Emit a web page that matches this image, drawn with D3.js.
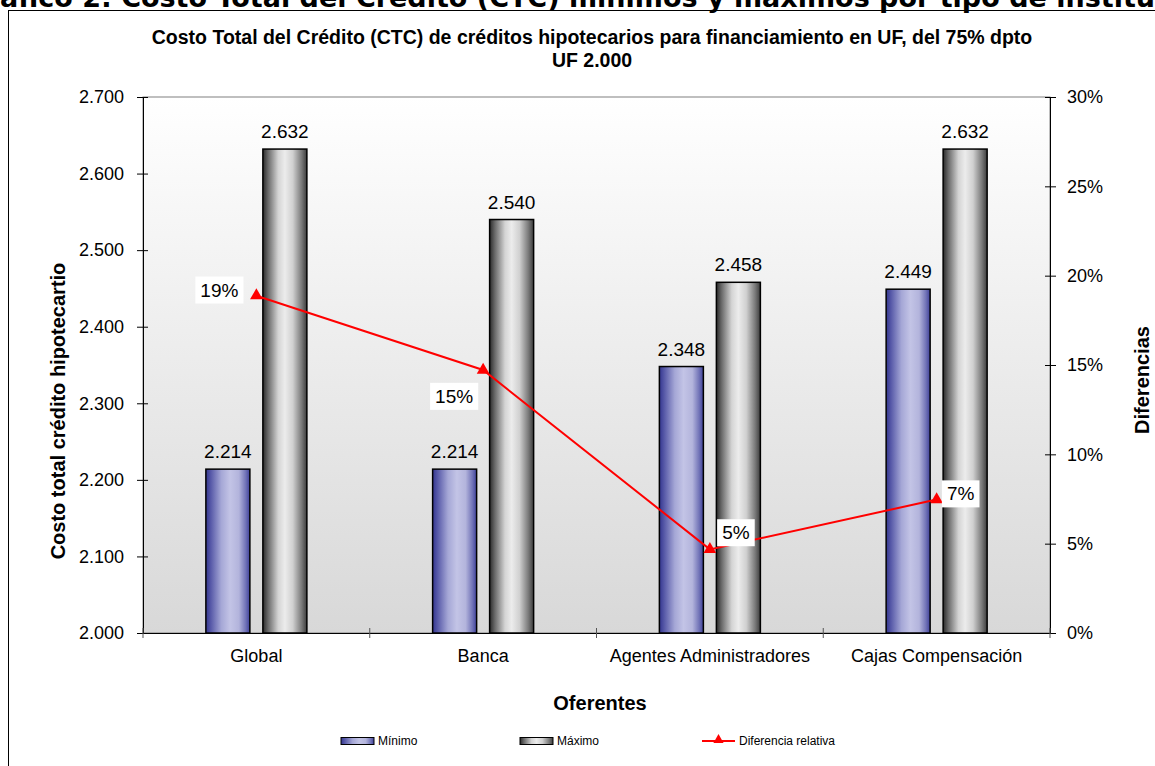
<!DOCTYPE html>
<html>
<head>
<meta charset="utf-8">
<script src="https://cdn.jsdelivr.net/npm/d3@7"></script>
<style>
  html, body { margin: 0; padding: 0; background: #fff; }
  svg { display: block; }
  text { font-family: "Liberation Sans", Arial, sans-serif; fill: #000; }
</style>
</head>
<body>
<svg id="chart" width="1155" height="766"></svg>
<script>
// Oferentes y costos totales (UF) por tipo de institución
const categories = ["Global", "Banca", "Agentes Administradores", "Cajas Compensación"];
const minimo = [2214, 2214, 2348, 2449];
const maximo = [2632, 2540, 2458, 2632];
const diferencia = [0.1888, 0.1472, 0.0468, 0.0747];
const leftTicks = [2000, 2100, 2200, 2300, 2400, 2500, 2600, 2700];
const rightTicks = [0, 0.05, 0.10, 0.15, 0.20, 0.25, 0.30];
const seriesNames = ["Mínimo", "Máximo", "Diferencia relativa"];

const es = d3.formatLocale({ decimal: ",", thousands: ".", grouping: [3], currency: ["$", ""] });
const fmtUF = es.format(",");
const fmtPct = es.format(".0%");

const svg = d3.select("#chart");
const W = 1155, H = 766;
const plot = { left: 143, right: 1050, top: 97, bottom: 633 };
const labelFont = "18px";
const valueFont = "19px";

const defs = svg.append("defs");
const bg = defs.append("linearGradient").attr("id", "plotBg")
  .attr("x1", 0).attr("y1", 0).attr("x2", 0).attr("y2", 1);
bg.append("stop").attr("offset", "0%").attr("stop-color", "#ffffff");
bg.append("stop").attr("offset", "100%").attr("stop-color", "#d8d8d8");

const gMin = defs.append("linearGradient").attr("id", "gradMin")
  .attr("x1", 0).attr("y1", 0).attr("x2", 1).attr("y2", 0);
[["0%", "#33358f"], ["12%", "#5a5caa"], ["35%", "#a5a7d6"], ["55%", "#c3c4e6"], ["75%", "#b3b4dc"], ["90%", "#7375b8"], ["100%", "#3f419a"]]
  .forEach(([o, c]) => gMin.append("stop").attr("offset", o).attr("stop-color", c));

const gMax = defs.append("linearGradient").attr("id", "gradMax")
  .attr("x1", 0).attr("y1", 0).attr("x2", 1).attr("y2", 0);
[["0%", "#2a2a2a"], ["12%", "#6a6a6a"], ["35%", "#d4d4d4"], ["50%", "#ececec"], ["68%", "#d0d0d0"], ["88%", "#7a7a7a"], ["100%", "#3c3c3c"]]
  .forEach(([o, c]) => gMax.append("stop").attr("offset", o).attr("stop-color", c));

// Outer frame
svg.append("rect").attr("x", 8.5).attr("y", 10.5).attr("width", W + 10).attr("height", H + 10)
  .attr("fill", "#fff").attr("stroke", "#000").attr("stroke-width", 1);

// Heading above the frame
const head = svg.append("text").attr("y", 7)
  .style("font-family", "'DejaVu Sans', Verdana, sans-serif")
  .style("font-weight", "bold").style("font-size", "27px")
  .text("Gráfico 2: Costo Total del Crédito (CTC) mínimos y máximos por tipo de institución");
const lead = head.node().getSubStringLength(0, 2);
head.attr("x", -lead);

// Chart title
svg.append("text").attr("x", 592).attr("y", 44).attr("text-anchor", "middle")
  .style("font-weight", "bold").style("font-size", "19.5px")
  .text("Costo Total del Crédito (CTC) de créditos hipotecarios para financiamiento en UF, del 75% dpto");
svg.append("text").attr("x", 592).attr("y", 67).attr("text-anchor", "middle")
  .style("font-weight", "bold").style("font-size", "19.5px")
  .text("UF 2.000");

// Scales
const step = (plot.right - plot.left) / categories.length;
const pInner = 1 - 101 / step;
const x = d3.scaleBand().domain(categories).range([plot.left, plot.right])
  .paddingInner(pInner).paddingOuter(pInner / 2);
const xSub = d3.scaleBand().domain(["min", "max"]).range([0, x.bandwidth()]).paddingInner(0.228);
const y = d3.scaleLinear().domain([2000, 2700]).range([plot.bottom, plot.top]);
const y2 = d3.scaleLinear().domain([0, 0.30]).range([plot.bottom, plot.top]);

// Plot area
svg.append("rect").attr("x", plot.left).attr("y", plot.top)
  .attr("width", plot.right - plot.left).attr("height", plot.bottom - plot.top)
  .attr("fill", "url(#plotBg)").attr("stroke", "#808080").attr("stroke-width", 1);

// Left axis
const axL = svg.append("g").attr("transform", `translate(${plot.left},0)`)
  .call(d3.axisLeft(y).tickValues(leftTicks).tickFormat(fmtUF).tickSize(6).tickPadding(13));
axL.select(".domain").attr("stroke", "#000");
axL.selectAll(".tick line").attr("x1", 5).attr("stroke", "#000");
axL.selectAll(".tick text").style("font-size", labelFont).style("font-family", "'Liberation Sans', Arial, sans-serif");

// Right axis
const axR = svg.append("g").attr("transform", `translate(${plot.right},0)`)
  .call(d3.axisRight(y2).tickValues(rightTicks).tickFormat(fmtPct).tickSize(6).tickPadding(11));
axR.select(".domain").attr("stroke", "#000");
axR.selectAll(".tick line").attr("x1", -5).attr("stroke", "#000");
axR.selectAll(".tick text").style("font-size", labelFont).style("font-family", "'Liberation Sans', Arial, sans-serif");

// Bottom axis
const axB = svg.append("g").attr("transform", `translate(0,${plot.bottom})`)
  .call(d3.axisBottom(x).tickSize(0).tickPadding(16));
axB.select(".domain").attr("stroke", "#000");
axB.selectAll(".tick text").style("font-size", labelFont).style("font-family", "'Liberation Sans', Arial, sans-serif");
const bounds = categories.map(c => x(c) - (x.step() - x.bandwidth()) / 2).concat([plot.right]);
axB.selectAll("line.bound").data(bounds).join("line").attr("class", "bound")
  .attr("x1", d => d).attr("x2", d => d).attr("y1", -5).attr("y2", 5)
  .attr("stroke", "#555").attr("stroke-width", 1);

// Bars
const bars = categories.map((c, i) => [
  { cat: c, key: "min", v: minimo[i] },
  { cat: c, key: "max", v: maximo[i] }
]).flat();
svg.append("g").selectAll("rect").data(bars).join("rect")
  .attr("x", d => x(d.cat) + xSub(d.key))
  .attr("y", d => y(d.v))
  .attr("width", xSub.bandwidth())
  .attr("height", d => y(2000) - y(d.v))
  .attr("fill", d => d.key === "min" ? "url(#gradMin)" : "url(#gradMax)")
  .attr("stroke", "#000").attr("stroke-width", 1.5);

svg.append("g").selectAll("text").data(bars).join("text")
  .attr("x", d => x(d.cat) + xSub(d.key) + xSub.bandwidth() / 2)
  .attr("y", d => y(d.v) - 11)
  .attr("text-anchor", "middle").style("font-size", valueFont)
  .text(d => fmtUF(d.v));

// Relative difference line
const pts = categories.map((c, i) => ({ cat: c, v: diferencia[i], px: x(c) + x.bandwidth() / 2, py: y2(diferencia[i]) }));
svg.append("path").datum(pts)
  .attr("d", d3.line().x(d => d.px).y(d => d.py))
  .attr("fill", "none").attr("stroke", "#ff0000").attr("stroke-width", 2);
const tri = d3.symbol().type(d3.symbolTriangle).size(70);
svg.append("g").selectAll("path").data(pts).join("path")
  .attr("transform", d => `translate(${d.px},${d.py})`)
  .attr("d", tri).attr("fill", "#ff0000");

// Value labels for the line, placed beside each marker
const labelShift = { "Global": [-37, -6], "Banca": [-29, 26], "Agentes Administradores": [26, -17], "Cajas Compensación": [24, -6] };
const lblG = svg.append("g");
pts.forEach(p => {
  const [dx, dy] = labelShift[p.cat];
  const g = lblG.append("g").attr("transform", `translate(${p.px + dx},${p.py + dy})`);
  const rect = g.append("rect").attr("fill", "#fff");
  const t = g.append("text").attr("text-anchor", "middle").attr("dy", "0.36em")
    .style("font-size", valueFont).text(fmtPct(p.v));
  const b = t.node().getBBox();
  rect.attr("x", b.x - 5).attr("y", b.y - 3).attr("width", b.width + 10).attr("height", b.height + 6);
});

// Axis titles
svg.append("text").attr("transform", `translate(65,411) rotate(-90)`).attr("text-anchor", "middle")
  .style("font-weight", "bold").style("font-size", "20px").text("Costo total crédito hipotecartio");
svg.append("text").attr("transform", `translate(1149,380) rotate(-90)`).attr("text-anchor", "middle")
  .style("font-weight", "bold").style("font-size", "20px").text("Diferencias");
svg.append("text").attr("x", 600).attr("y", 710).attr("text-anchor", "middle")
  .style("font-weight", "bold").style("font-size", "20px").text("Oferentes");

// Legend
const legendX = [341, 520, 702];
const lg = svg.append("g");
seriesNames.forEach((name, i) => {
  const g = lg.append("g").attr("transform", `translate(${legendX[i]},741)`);
  if (i < 2) {
    g.append("rect").attr("x", 0).attr("y", -3.5).attr("width", 33).attr("height", 7)
      .attr("fill", i === 0 ? "url(#gradMin)" : "url(#gradMax)").attr("stroke", "#000").attr("stroke-width", 1);
  } else {
    g.append("line").attr("x1", 0).attr("x2", 33).attr("y1", 0).attr("y2", 0)
      .attr("stroke", "#ff0000").attr("stroke-width", 2);
    g.append("path").attr("transform", "translate(16.5,-1)").attr("d", d3.symbol().type(d3.symbolTriangle).size(45)).attr("fill", "#ff0000");
  }
  g.append("text").attr("x", 37).attr("dy", "0.35em").style("font-size", "12px").text(name);
});
</script>
</body>
</html>
